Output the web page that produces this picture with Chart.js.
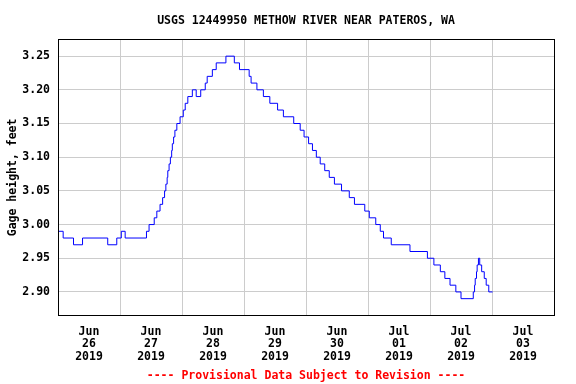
<!DOCTYPE html>
<html>
<head>
<meta charset="utf-8">
<script src="https://cdn.jsdelivr.net/npm/chart.js@4.4.1/dist/chart.umd.min.js"></script>
<style>
  html, body { margin: 0; padding: 0; background: #fff; }
</style>
</head>
<body>
<canvas id="chart" width="576" height="384"></canvas>
<script>
// hours since Jun 26 2019 00:00 where the gage height changes
const hours = [0, 2, 6, 9.5, 19.25, 22.75, 24.5, 26,
  34.25, 35.25, 37.25, 38.25, 39.5, 40.5, 41.25, 41.75, 42.25, 42.5,
  43, 43.5, 44, 44.25, 44.75, 45.25, 46, 47.25, 48.5, 49.25,
  50.25, 52, 53.5, 55.25, 57, 57.75, 59.75, 61.25, 65, 68.25,
  70.25, 74, 74.75, 77, 79.5, 82, 85, 87.25, 91.25, 93.75,
  95.25, 97, 98.5, 100, 101.5, 103.25, 105, 107, 109.75, 112.75,
  114.75, 118.75, 120.5, 123, 124.75, 126, 129, 136.25, 143, 145.5,
  148, 149.75, 151.75, 154, 156, 160.75, 161.25, 161.5, 162, 162.25,
  162.75, 163.25, 164, 165, 165.75, 166.75, 168.25]

// gage height, feet
const stage = [2.99, 2.98, 2.97, 2.98, 2.97, 2.98, 2.99, 2.98,
  2.99, 3.00, 3.01, 3.02, 3.03, 3.04, 3.05, 3.06, 3.07, 3.08,
  3.09, 3.10, 3.11, 3.12, 3.13, 3.14, 3.15, 3.16, 3.17, 3.18,
  3.19, 3.20, 3.19, 3.20, 3.21, 3.22, 3.23, 3.24, 3.25, 3.24,
  3.23, 3.22, 3.21, 3.20, 3.19, 3.18, 3.17, 3.16, 3.15, 3.14,
  3.13, 3.12, 3.11, 3.10, 3.09, 3.08, 3.07, 3.06, 3.05, 3.04,
  3.03, 3.02, 3.01, 3.00, 2.99, 2.98, 2.97, 2.96, 2.95, 2.94,
  2.93, 2.92, 2.91, 2.90, 2.89, 2.90, 2.91, 2.92, 2.93, 2.94,
  2.95, 2.94, 2.93, 2.92, 2.91, 2.90, 2.90]

const dayLabels = [
  ['Jun', '26', '2019'], ['Jun', '27', '2019'], ['Jun', '28', '2019'], ['Jun', '29', '2019'],
  ['Jun', '30', '2019'], ['Jul', '01', '2019'], ['Jul', '02', '2019'], ['Jul', '03', '2019']
]

const yTicks = [2.90, 2.95, 3.00, 3.05, 3.10, 3.15, 3.20, 3.25]

const mono = 'DejaVu Sans Mono'
const font = { family: mono, size: 11.5, weight: 'bold', lineHeight: 1.1 }

const frame = {
  id: 'frame',
  afterDatasetsDraw (chart) {
    const a = chart.chartArea
    const ctx = chart.ctx
    ctx.save()
    ctx.strokeStyle = '#000'
    ctx.lineWidth = 1
    ctx.strokeRect(Math.round(a.left) + 0.5, Math.round(a.top) + 0.5,
      Math.round(a.right - a.left), Math.round(a.bottom - a.top))
    ctx.restore()
  }
}

new Chart(document.getElementById('chart'), {
  type: 'line',
  data: {
    datasets: [{
      data: hours.map((h, i) => ({ x: h, y: stage[i] })),
      borderColor: '#0000ff',
      borderWidth: 1,
      pointRadius: 0,
      stepped: 'before',
      fill: false
    }]
  },
  options: {
    responsive: false,
    animation: false,
    devicePixelRatio: 1,
    layout: { padding: { left: 0, right: 22, top: 0, bottom: 0 } },
    plugins: {
      legend: { display: false },
      tooltip: { enabled: false },
      title: {
        display: true,
        text: 'USGS 12449950 METHOW RIVER NEAR PATEROS, WA',
        color: '#000',
        fullSize: false,
        font: { family: mono, size: 11.5, weight: 'bold', lineHeight: 1.2 },
        padding: { top: 14, bottom: 11.5 }
      },
      subtitle: {
        display: true,
        position: 'bottom',
        text: '---- Provisional Data Subject to Revision ----',
        color: '#ff0000',
        fullSize: false,
        font: { family: mono, size: 11.5, weight: 'bold', lineHeight: 1.2 },
        padding: { top: 0, bottom: 1 }
      }
    },
    scales: {
      x: {
        type: 'linear',
        min: 0,
        max: 192,
        border: { display: false },
        afterBuildTicks (scale) {
          const t = []
          for (let h = 0; h <= 192; h += 12) t.push({ value: h })
          scale.ticks = t
        },
        afterFit (scale) { scale.height = 53.7 },
        grid: {
          drawTicks: false,
          color: (c) => (c.tick && c.tick.value % 24 === 0) ? '#cccccc' : 'rgba(0,0,0,0)'
        },
        ticks: {
          autoSkip: false,
          maxRotation: 0,
          padding: 10,
          color: '#000',
          font: font,
          callback: (v) => (v % 24 === 12) ? dayLabels[(v - 12) / 24] : ''
        }
      },
      y: {
        min: 2.865,
        max: 3.275,
        border: { display: false },
        afterBuildTicks (scale) { scale.ticks = yTicks.map(v => ({ value: v })) },
        afterFit (scale) { scale.width = 58 },
        grid: { drawTicks: false, color: '#cccccc' },
        ticks: {
          padding: 8,
          color: '#000',
          font: font,
          callback: (v) => v.toFixed(2)
        },
        title: {
          display: true,
          text: 'Gage height, feet',
          color: '#000',
          font: { family: mono, size: 11.5, weight: 'bold', lineHeight: 1.2 },
          padding: { top: 6, bottom: 0 }
        }
      }
    }
  },
  plugins: [frame]
})
</script>
</body>
</html>
